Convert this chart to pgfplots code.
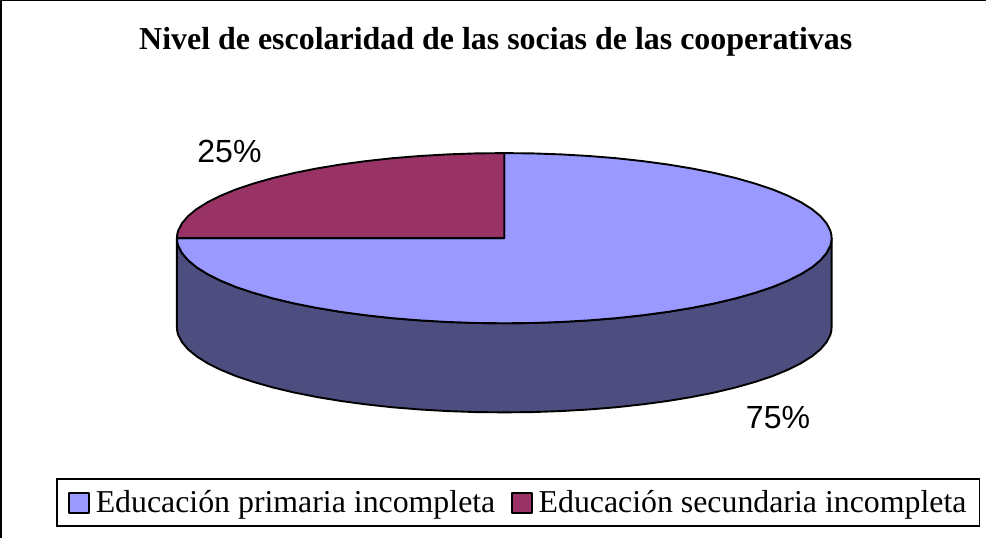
\documentclass[border=0pt]{standalone}
\usepackage{fontspec}
\setmainfont{Liberation Serif}
\newfontfamily\arial{Liberation Sans}
\usepackage{pgfplots}
\pgfplotsset{compat=1.18}
\definecolor{primaria}{HTML}{9999FF}
\definecolor{secundaria}{HTML}{993366}
\definecolor{lado}{HTML}{4D4D80}
\begin{document}
\begin{tikzpicture}
\begin{axis}[
  scale only axis, width=987bp, height=537bp,
  xmin=0, xmax=987, ymin=0, ymax=537, y dir=reverse,
  axis lines=none, clip=false, ticks=none,
  every axis plot/.append style={line join=round},
  legend columns=2,
  legend style={at={(axis cs:58,478)}, anchor=north west, draw=black, line width=1.2bp,
    font=\fontsize{31.8bp}{34bp}\selectfont, inner xsep=11bp, inner ysep=9.7bp,
    /tikz/every even column/.style={column sep=13.5bp}},
  legend image code/.code={\draw[#1,draw=black,line width=1.8bp] (0bp,-10.5bp) rectangle (20bp,9.5bp); \path (24bp,0bp);},
]
\addplot[black, line width=1.5bp, forget plot] coordinates {(2.5,537) (2.5,0.8) (987,0.8)};
\addplot[fill=lado, draw=black, line width=1.9bp, forget plot] coordinates {
 (178.5,238) (178.8,241.7) (179.7,245.4) (183.5,252.8) (189.6,260) (198.2,267.1) (209.1,273.9) (222.3,280.5) (237.6,286.8) (255,292.6) (274.3,298.1) (295.3,303.1) (317.9,307.6) (342,311.6) (367.3,315) (393.7,317.9) (420.9,320.1) (448.7,321.7) (477,322.7) (505.5,323)
 (534,322.7) (562.3,321.7) (590.1,320.1) (617.3,317.9) (643.7,315) (669,311.6) (693.1,307.6) (715.7,303.1) (736.7,298.1) (756,292.6) (773.4,286.8) (788.7,280.5) (801.9,273.9) (812.8,267.1) (821.4,260) (827.5,252.8) (831.3,245.4) (832.2,241.7) (832.5,238)
 (832.5,327) (832.2,330.7) (831.3,334.4) (827.5,341.8) (821.4,349) (812.8,356.1) (801.9,362.9) (788.7,369.5) (773.4,375.8) (756,381.6) (736.7,387.1) (715.7,392.1) (693.1,396.6) (669,400.6) (643.7,404) (617.3,406.9) (590.1,409.1) (562.3,410.7) (534,411.7) (505.5,412)
 (477,411.7) (448.7,410.7) (420.9,409.1) (393.7,406.9) (367.3,404) (342,400.6) (317.9,396.6) (295.3,392.1) (274.3,387.1) (255,381.6) (237.6,375.8) (222.3,369.5) (209.1,362.9) (198.2,356.1) (189.6,349) (183.5,341.8) (179.7,334.4) (178.8,330.7) (178.5,327)
} -- cycle;
\addplot[fill=primaria, draw=black, line width=1.9bp] coordinates {
 (505.5,238) (505.5,153) (534,153.3) (562.3,154.3) (590.1,155.9) (617.3,158.1) (643.7,161) (669,164.4) (693.1,168.4) (715.7,172.9) (736.7,177.9) (756,183.4) (773.4,189.2) (788.7,195.5) (801.9,202.1) (812.8,208.9) (821.4,216) (827.5,223.2) (831.3,230.6) (832.2,234.3) (832.5,238)
 (832.2,241.7) (831.3,245.4) (827.5,252.8) (821.4,260) (812.8,267.1) (801.9,273.9) (788.7,280.5) (773.4,286.8) (756,292.6) (736.7,298.1) (715.7,303.1) (693.1,307.6) (669,311.6) (643.7,315) (617.3,317.9) (590.1,320.1) (562.3,321.7) (534,322.7) (505.5,323)
 (477,322.7) (448.7,321.7) (420.9,320.1) (393.7,317.9) (367.3,315) (342,311.6) (317.9,307.6) (295.3,303.1) (274.3,298.1) (255,292.6) (237.6,286.8) (222.3,280.5) (209.1,273.9) (198.2,267.1) (189.6,260) (183.5,252.8) (179.7,245.4) (178.8,241.7) (178.5,238)
} -- cycle;
\addlegendentry{Educación primaria incompleta}
\addplot[fill=secundaria, draw=black, line width=1.9bp] coordinates {
 (505.5,238) (178.5,238) (178.8,234.3) (179.7,230.6) (183.5,223.2) (189.6,216) (198.2,208.9) (209.1,202.1) (222.3,195.5) (237.6,189.2) (255,183.4) (274.3,177.9) (295.3,172.9) (317.9,168.4) (342,164.4) (367.3,161) (393.7,158.1) (420.9,155.9) (448.7,154.3) (477,153.3) (505.5,153)
} -- cycle;
\addlegendentry{Educación secundaria incompleta}
\node[font=\bfseries\fontsize{31.9bp}{34bp}\selectfont, anchor=base] at (axis cs:497,50) {Nivel de escolaridad de las socias de las cooperativas};
\node[font=\arial\fontsize{32bp}{34bp}\selectfont, anchor=base] at (axis cs:231,162) {25\%};
\node[font=\arial\fontsize{32bp}{34bp}\selectfont, anchor=base] at (axis cs:779,428) {75\%};
\end{axis}
\end{tikzpicture}
\end{document}
